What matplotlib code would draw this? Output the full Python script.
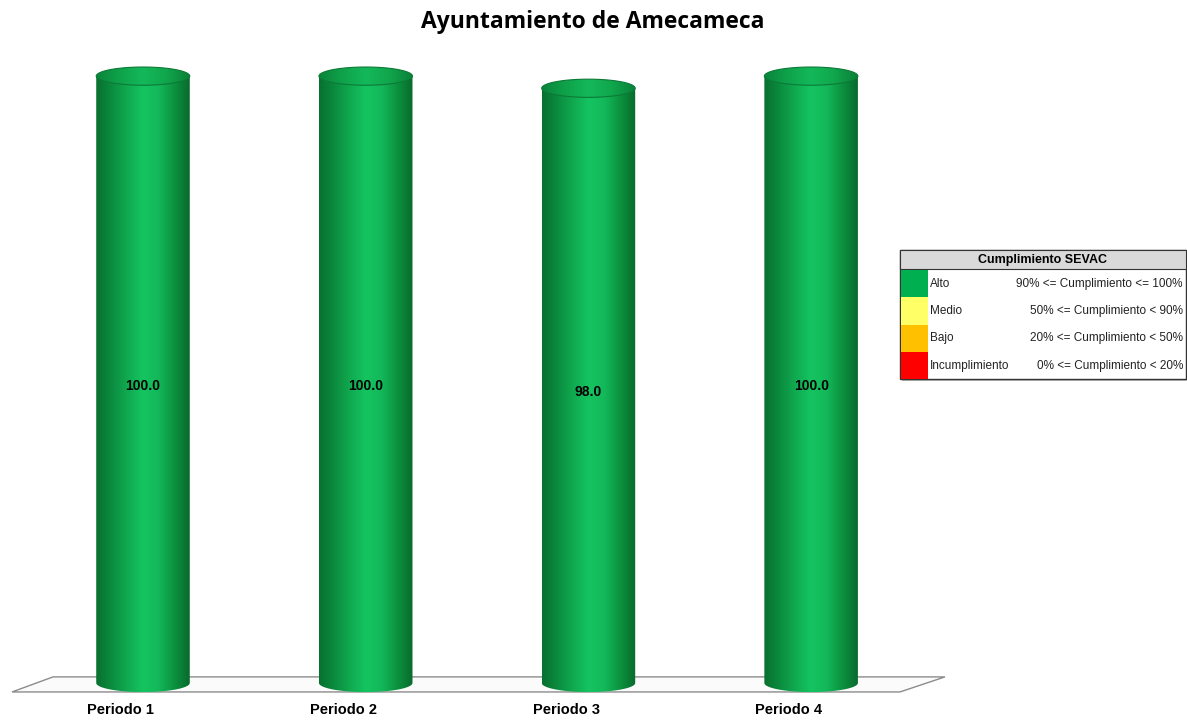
import numpy as np
import matplotlib
matplotlib.use("Agg")
import matplotlib.pyplot as plt
from matplotlib.path import Path
from matplotlib.patches import PathPatch, Polygon, Rectangle
from matplotlib.colors import LinearSegmentedColormap

# Data
periodos = ["Periodo 1", "Periodo 2", "Periodo 3", "Periodo 4"]
valores = [100.0, 100.0, 98.0, 100.0]
titulo = "Ayuntamiento de Amecameca"

leyenda_titulo = "Cumplimiento SEVAC"
leyenda_niveles = ["Alto", "Medio", "Bajo", "Incumplimiento"]
leyenda_rangos = ["90% <= Cumplimiento <= 100%", "50% <= Cumplimiento < 90%",
                  "20% <= Cumplimiento < 50%", "0% <= Cumplimiento < 20%"]
leyenda_colores = ["#00b050", "#ffff66", "#ffc000", "#ff0000"]

fig = plt.figure(figsize=(11.87, 7.21), dpi=100)
fig.patch.set_facecolor("white")

ax = fig.add_axes([0.0079, 0.0275, 0.7974, 0.909])
ax.set_xlim(-0.6, 3.65)
ax.set_ylim(-3, 105)
ax.axis("off")

body_cmap = LinearSegmentedColormap.from_list(
    "body", ["#08702f", "#0b8c3f", "#10aa50", "#15c460", "#13b85a", "#0c923f", "#086a2c"])
top_cmap = LinearSegmentedColormap.from_list(
    "top", ["#0a843a", "#0fa24b", "#14b85a", "#10a64c", "#0a8038"])

# floor (3D base plane)
floor = Polygon([(-0.588, -1.48), (3.399, -1.48), (3.601, 1.0), (-0.404, 1.0)],
                closed=True, facecolor="#fbfbfb", edgecolor="#8c8c8c", lw=1.0, zorder=1)
ax.add_patch(floor)

w = 0.42      # cylinder width
eh = 3.0      # ellipse height in data units
t = np.linspace(np.pi, 2 * np.pi, 60)
grad = np.linspace(0, 1, 256).reshape(1, -1)

for i, v in enumerate(valores):
    x0, x1 = i - w / 2, i + w / 2
    # body outline: left side, bottom half ellipse, right side
    bx = i + (w / 2) * np.cos(t)
    by = (eh / 2) * np.sin(t)
    verts = [(x0, v)] + list(zip(bx, by)) + [(x1, v), (x0, v)]
    body = Path(verts, closed=True)
    bp = PathPatch(body, facecolor="none", edgecolor="none", zorder=3)
    ax.add_patch(bp)
    im = ax.imshow(grad, cmap=body_cmap, extent=[x0, x1, -eh / 2, v],
                   aspect="auto", zorder=3, interpolation="bicubic")
    im.set_clip_path(bp)

    # top face
    tt = np.linspace(0, 2 * np.pi, 100)
    top = Path(list(zip(i + (w / 2) * np.cos(tt), v + (eh / 2) * np.sin(tt))), closed=True)
    tp = PathPatch(top, facecolor="none", edgecolor="#0b7a36", lw=0.8, zorder=5)
    ax.add_patch(tp)
    im2 = ax.imshow(grad, cmap=top_cmap, extent=[x0, x1, v - eh / 2, v + eh / 2],
                    aspect="auto", zorder=4, interpolation="bicubic")
    im2.set_clip_path(tp)

    ax.text(i, v / 2 - 1.1, f"{v:.1f}", ha="center", va="center", fontsize=10,
            fontweight="bold", family="Liberation Sans", color="black", zorder=6)
    ax.text(i - 0.1, -3.3, periodos[i], ha="center", va="top", fontsize=10.5,
            fontweight="bold", family="Liberation Sans", color="black", clip_on=False)

fig.text(0.4995, 0.969, titulo, ha="center", va="center", fontsize=16.5,
         fontweight="bold", family="Open Sans")

# legend table
lax = fig.add_axes([0, 0, 1, 1])
lax.set_xlim(0, 1187)
lax.set_ylim(721, 0)
lax.axis("off")
lax.add_patch(Rectangle((902, 252), 286, 129, facecolor="#bdbdbd", edgecolor="none", zorder=1))
lax.add_patch(Rectangle((900, 250), 286, 129, facecolor="white", edgecolor="#333333", lw=1.0, zorder=2))
lax.add_patch(Rectangle((900, 250), 286, 19, facecolor="#d9d9d9", edgecolor="#333333", lw=0.8, zorder=3))
lax.text(1043, 259.5, leyenda_titulo, ha="center", va="center", fontsize=9,
         fontweight="bold", family=["Liberation Sans Narrow", "Liberation Sans"], zorder=4)
row_h = 27.3
for k, (niv, rng, col) in enumerate(zip(leyenda_niveles, leyenda_rangos, leyenda_colores)):
    y = 270 + k * row_h
    lax.add_patch(Rectangle((901, y), 27, row_h, facecolor=col, edgecolor="none", zorder=3))
    lax.text(930, y + row_h / 2, niv, ha="left", va="center", fontsize=8.5,
             family=["Liberation Sans Narrow", "Liberation Sans"], color="#222222", zorder=4)
    lax.text(1183, y + row_h / 2, rng, ha="right", va="center", fontsize=8.5,
             family=["Liberation Sans Narrow", "Liberation Sans"], color="#222222", zorder=4)

fig.savefig("out.png", dpi=100, facecolor="white")
